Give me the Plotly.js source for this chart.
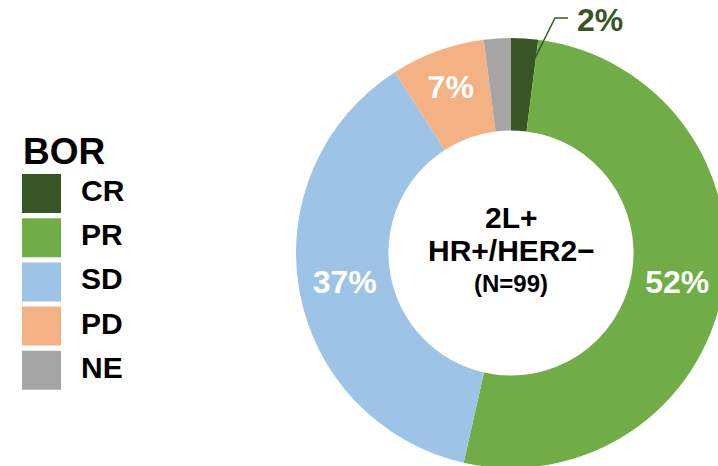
<!DOCTYPE html>
<html>
<head>
<meta charset="utf-8">
<script src="https://cdn.plot.ly/plotly-3.0.1.min.js"></script>
<style>
html,body{margin:0;padding:0;overflow:hidden;background:#fff;}
#chart{width:740px;height:480px;}
</style>
</head>
<body>
<div id="chart"></div>
<script>
// Data
const categories = ['CR', 'PR', 'SD', 'PD', 'NE'];
const counts = [2, 51, 37, 7, 2];           // patients, N = 99
const colors = ['#375623', '#70AD47', '#9DC3E6', '#F4B183', '#A5A5A5'];
const showInside = [false, true, true, true, false];
const centerLines = ['2L+', 'HR+/HER2−', '(N=99)'];
const legendTitle = 'BOR';
const outsideLabel = '2%';

const W = 740, H = 480;
const px = x => x / W;
const py = y => 1 - y / H;
const FONT = 'Liberation Sans, Arial, sans-serif';

// donut geometry (pixels)
const cx = 511, cy = 253, R = 215;

const pie = {
  type: 'pie',
  labels: categories,
  values: counts,
  sort: false,
  direction: 'clockwise',
  rotation: 0,
  hole: 0.57,
  marker: {colors: colors, line: {width: 0}},
  texttemplate: showInside.map(s => s ? '%{percent:.0%}' : ''),
  textposition: 'inside',
  insidetextorientation: 'horizontal',
  textfont: {family: FONT, size: 32, color: '#ffffff', weight: 700},
  domain: {x: [px(cx - R), px(cx + R)], y: [py(cy + R), py(cy - R)]},
  hoverinfo: 'skip',
  showlegend: false
};

// custom legend: squares
const legendSquares = {
  type: 'scatter', mode: 'markers',
  x: categories.map(() => 41.5),
  y: categories,
  xaxis: 'x', yaxis: 'y',
  marker: {symbol: 'square', size: 39, color: colors, line: {width: 0}},
  hoverinfo: 'skip', showlegend: false
};
const legendText = {
  type: 'scatter', mode: 'text',
  x: categories.map(() => 81),
  y: categories,
  text: categories,
  textposition: 'middle right',
  textfont: {family: FONT, size: 30, color: '#000000', weight: 700},
  xaxis: 'x', yaxis: 'y',
  hoverinfo: 'skip', showlegend: false
};

// legend axis maps 1 unit = 1 px horizontally, 44.2 px per category vertically
const step = 44.2, first = 193.5;
const vt = -first / step, vb = vt + H / step;

const centerY = [217.5, 250, 283];
const centerSize = [30, 30, 24];

const layout = {
  width: W, height: H,
  margin: {l: 0, r: 0, t: 0, b: 0, pad: 0},
  paper_bgcolor: '#ffffff', plot_bgcolor: 'rgba(0,0,0,0)',
  showlegend: false,
  xaxis: {domain: [0, px(222)], range: [0, 222], visible: false, fixedrange: true},
  yaxis: {domain: [0, 1], type: 'category', categoryorder: 'array', categoryarray: categories,
          range: [vb, vt], visible: false, fixedrange: true},
  annotations: [
    {xref: 'paper', yref: 'paper', x: px(21), y: py(151), xanchor: 'left', yanchor: 'middle',
     text: legendTitle, showarrow: false,
     font: {family: FONT, size: 37, color: '#000000', weight: 700}},
    ...centerLines.map((t, i) => ({
      xref: 'paper', yref: 'paper', x: px(cx), y: py(centerY[i]), xanchor: 'center', yanchor: 'middle',
      text: t, showarrow: false,
      font: {family: FONT, size: centerSize[i], color: '#000000', weight: 700}
    })),
    {xref: 'paper', yref: 'paper', x: px(575), y: py(20), xanchor: 'left', yanchor: 'middle',
     text: outsideLabel, showarrow: false,
     font: {family: FONT, size: 32, color: colors[0], weight: 700}}
  ],
  shapes: [
    {type: 'path', xref: 'paper', yref: 'paper',
     path: 'M' + px(535) + ',' + py(58) + ' L' + px(555) + ',' + py(18) + ' L' + px(568) + ',' + py(18),
     line: {color: colors[0], width: 1.5}}
  ]
};

Plotly.newPlot('chart', [pie, legendSquares, legendText], layout, {displayModeBar: false, staticPlot: true});
</script>
</body>
</html>
